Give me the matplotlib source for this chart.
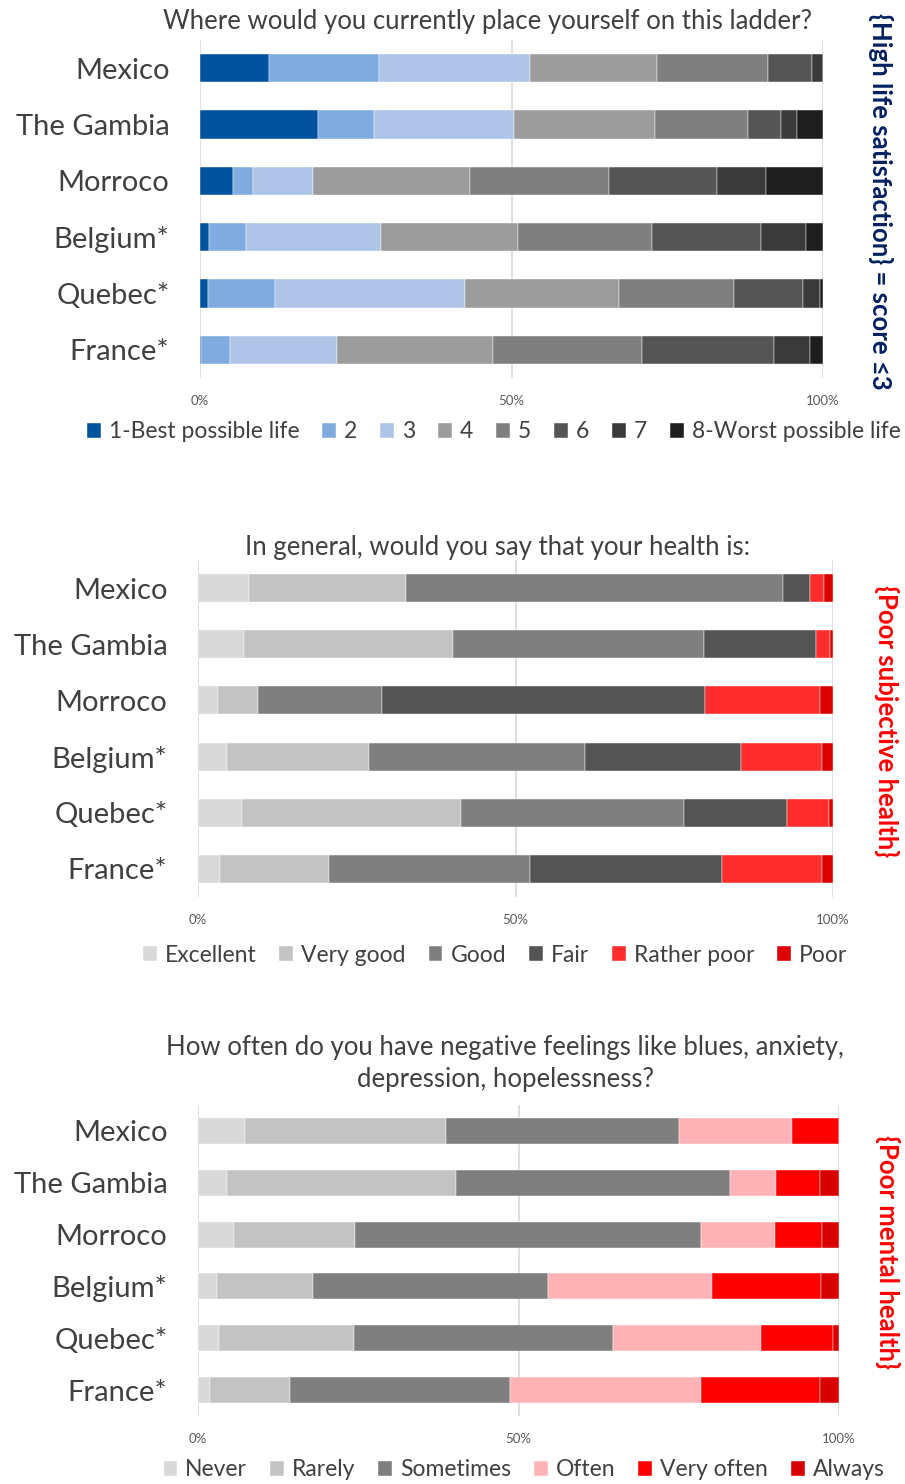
import matplotlib.pyplot as plt
import numpy as np

plt.rcParams['font.family'] = ['Lato', 'DejaVu Sans']

countries = ['Mexico', 'The Gambia', 'Morroco', 'Belgium*', 'Quebec*', 'France*']

# ladder, % per step 1..8
ladder_labels = ['1-Best possible life', '2', '3', '4', '5', '6', '7', '8-Worst possible life']
ladder = np.array([
    [11.1, 17.6, 24.2, 20.5, 17.7, 7.1, 1.8, 0.0],
    [18.9, 9.0, 22.5, 22.6, 14.9, 5.4, 2.6, 4.1],
    [5.3, 3.2, 9.7, 25.2, 22.3, 17.3, 7.9, 9.1],
    [1.5, 5.9, 21.6, 22.0, 21.6, 17.4, 7.2, 2.8],
    [1.3, 10.8, 30.4, 24.8, 18.4, 11.1, 2.7, 0.5],
    [0.2, 4.6, 17.2, 25.0, 24.0, 21.2, 5.7, 2.1],
])
ladder_colors = ['#01539d', '#7fabde', '#aec5e8', '#9c9c9c', '#7f7f7f', '#555555', '#3a3a3a', '#1e1e1e']

health_labels = ['Excellent', 'Very good', 'Good', 'Fair', 'Rather poor', 'Poor']
health = np.array([
    [8.0, 24.7, 59.5, 4.1, 2.3, 1.4],
    [7.2, 32.9, 39.6, 17.6, 2.2, 0.5],
    [3.1, 6.3, 19.5, 50.9, 18.2, 2.0],
    [4.6, 22.3, 34.0, 24.6, 12.7, 1.8],
    [7.0, 34.4, 35.1, 16.3, 6.5, 0.7],
    [3.4, 17.2, 31.7, 30.2, 15.7, 1.8],
])
health_colors = ['#d9d9d9', '#c3c3c3', '#7f7f7f', '#545454', '#ff2d2d', '#dc0000']

mental_labels = ['Never', 'Rarely', 'Sometimes', 'Often', 'Very often', 'Always']
mental = np.array([
    [7.4, 31.3, 36.3, 17.7, 7.3, 0.0],
    [4.5, 35.7, 42.8, 7.2, 6.8, 3.0],
    [5.6, 18.9, 54.0, 11.5, 7.4, 2.6],
    [2.9, 15.0, 36.7, 25.6, 17.0, 2.8],
    [3.2, 21.1, 40.5, 23.1, 11.2, 0.9],
    [1.8, 12.5, 34.3, 29.8, 18.6, 3.0],
])
mental_colors = ['#d9d9d9', '#c3c3c3', '#7f7f7f', '#ffb3b6', '#ff0000', '#d90000']

W, H = 905, 1484
fig = plt.figure(figsize=(W / 100, H / 100), dpi=100)


def px_axes(left, top, right, bottom):
    return fig.add_axes([left / W, 1 - bottom / H, (right - left) / W, (bottom - top) / H])


def stacked(ax, data, labels, colors):
    y = np.arange(len(countries))
    left = np.zeros(len(countries))
    for i in range(data.shape[1]):
        vals = data[:, i] / 100.0
        ax.barh(y, vals, left=left, height=0.5, color=colors[i], label=labels[i],
                edgecolor='white', linewidth=0.3, zorder=3)
        left += vals
    ax.set_ylim(5.5, -0.5)
    ax.set_xlim(0, 1)
    ax.set_yticks(y)
    ax.set_yticklabels(countries, fontsize=21, color='#404040')
    ax.set_xticks([0, 0.5, 1])
    ax.set_xticklabels(['0%', '50%', '100%'], fontsize=9.5, color='#595959')
    ax.tick_params(length=0, axis='y', pad=22)
    ax.tick_params(length=0, axis='x', pad=12)
    for s in ax.spines.values():
        s.set_visible(False)
    ax.grid(axis='x', color='#d9d9d9', linewidth=1.2, zorder=0)


leg_kw = dict(loc='center', frameon=False, fontsize=16.5, handlelength=0.6, handleheight=0.6,
              handletextpad=0.35, columnspacing=1.0, labelcolor='#404040')

# panel 1
ax1 = px_axes(200, 40, 823, 378)
stacked(ax1, ladder, ladder_labels, ladder_colors)
fig.text(487 / W, 1 - 22 / H, 'Where would you currently place yourself on this ladder?',
         ha='center', va='center', fontsize=18.5, color='#404040')
ax1.legend(bbox_to_anchor=((494 - 200) / 623, -54 / 338), ncol=8, **leg_kw)
fig.text(880 / W, 1 - 201 / H, '{High life satisfaction} = score \u22643', rotation=-90,
         ha='center', va='center', fontsize=18.5, fontweight='bold', color='#002060')

# panel 2
ax2 = px_axes(198, 560, 833, 897)
stacked(ax2, health, health_labels, health_colors)
fig.text(498 / W, 1 - 547 / H, 'In general, would you say that your health is:',
         ha='center', va='center', fontsize=18.5, color='#404040')
ax2.legend(bbox_to_anchor=((495 - 198) / 635, -58 / 337), ncol=6, **leg_kw)
fig.text(886 / W, 1 - 721 / H, '{Poor subjective health}', rotation=-90,
         ha='center', va='center', fontsize=18.5, fontweight='bold', color='#ff0000')

# panel 3
ax3 = px_axes(198, 1105, 839, 1416)
stacked(ax3, mental, mental_labels, mental_colors)
fig.text(505 / W, 1 - 1063 / H,
         'How often do you have negative feelings like blues, anxiety,\ndepression, hopelessness?',
         ha='center', va='center', fontsize=18.5, color='#404040', linespacing=1.35)
ax3.legend(bbox_to_anchor=((524 - 198) / 641, -54 / 311), ncol=6, **leg_kw)
fig.text(887 / W, 1 - 1252 / H, '{Poor mental health}', rotation=-90,
         ha='center', va='center', fontsize=18.5, fontweight='bold', color='#ff0000')

fig.savefig('out.png', dpi=100, facecolor='white')
